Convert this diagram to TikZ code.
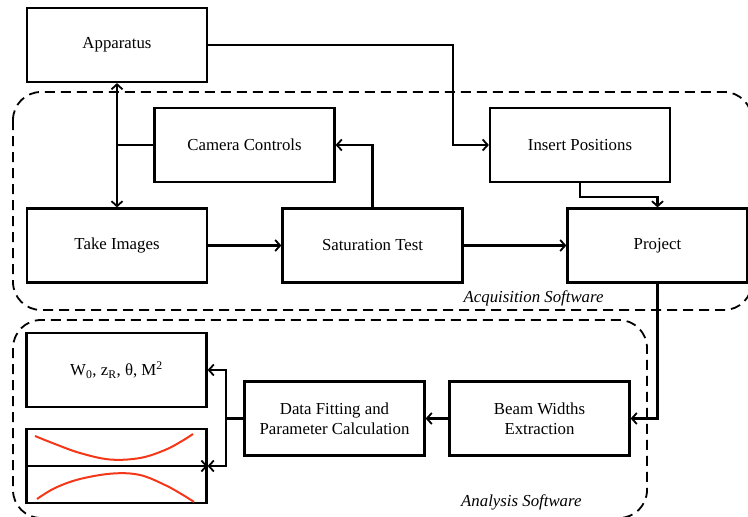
\documentclass[tikz,border=0pt]{standalone}
\usepackage{fontspec}
\setmainfont{Liberation Serif}
\usetikzlibrary{arrows.meta}
\definecolor{beamred}{RGB}{245,55,25}
\begin{document}
\begin{tikzpicture}[x=1pt,y=-1pt,
  box/.style={draw, line width=2.2pt, minimum width=180pt, minimum height=74pt,
              inner sep=0pt, align=center, font=\fontsize{16.8}{20}\selectfont},
  wire/.style={line width=2.1pt},
  link/.style={wire, -{Straight Barb[length=5pt,width=11pt,line width=1.8pt]}},
  biglink/.style={wire, {Straight Barb[length=5pt,width=11pt,line width=1.8pt]}-{Straight Barb[length=5pt,width=11pt,line width=1.8pt]}},
  group/.style={line width=1.8pt, dash pattern=on 10pt off 6pt, rounded corners=28pt},
  tag/.style={font=\fontsize{16.8}{20}\selectfont\itshape},
  profile/.style={beamred, line width=2pt}]

\useasboundingbox (0,0) rectangle (748,517);

% software groups
\draw[group] (13,92) rectangle (752,310);
\draw[group] (13,320) rectangle (647,518);
\node[tag, anchor=east] (acqtag) at (607,298) {Acquisition Software};
\node[tag, anchor=east] (anatag) at (585,502) {Analysis Software};

% acquisition blocks
\node[box] (app)  at (117,45)    {Apparatus};
\node[box] (cam)  at (244.5,145) {Camera Controls};
\node[box] (ins)  at (580,145)   {Insert Positions};
\node[box] (take) at (117,245.5) {Take Images};
\node[box] (sat)  at (372.5,245.5) {Saturation Test};
\node[box] (proj) at (657.5,245.5) {Project};

% analysis blocks
\node[box] (beam) at (539.5,418.5) {Beam Widths\\Extraction};
\node[box] (fit)  at (334.5,418.5) {Data Fitting and\\Parameter Calculation};
\node[box] (res)  at (116.5,370)   {W\textsubscript{0}, z\textsubscript{R}, θ, M\textsuperscript{2}};
\node[box] (plot) at (116.5,466)   {};

% acquisition connectors
\draw[biglink] (app.south) -- (take.north);
\draw[wire] (cam.west) -- (cam.west -| app.south);
\draw[link] (app.east) -- ++(245,0) |- (ins.west);
\draw[link] (sat.north) |- (cam.east);
\draw[link] (ins.south) -- ++(0,14) -| (proj.north);
\draw[link] (take.east) -- (sat.west);
\draw[link] (sat.east) -- (proj.west);

% analysis connectors
\draw[link] (proj.south) |- (beam.east);
\draw[link] (beam.west) -- (fit.east);
\coordinate (fork) at (226,418.5);
\draw[wire] (fit.west) -- (fork);
\draw[link] (fork) |- (res.east);
\draw[link] (fork) |- (plot.east);

% beam profile sketch
\draw[link] (plot.west) -- (plot.east);
\draw[profile] plot[smooth, tension=0.6] coordinates
  {(35,436) (55,444) (80,453) (110,459.5) (140,458) (165,450) (182,441) (193,434)};
\draw[profile] plot[smooth, tension=0.6] coordinates
  {(37,499) (55,488) (80,479) (113,473.5) (140,475) (165,485) (183,495) (194,502)};
\end{tikzpicture}
\end{document}
